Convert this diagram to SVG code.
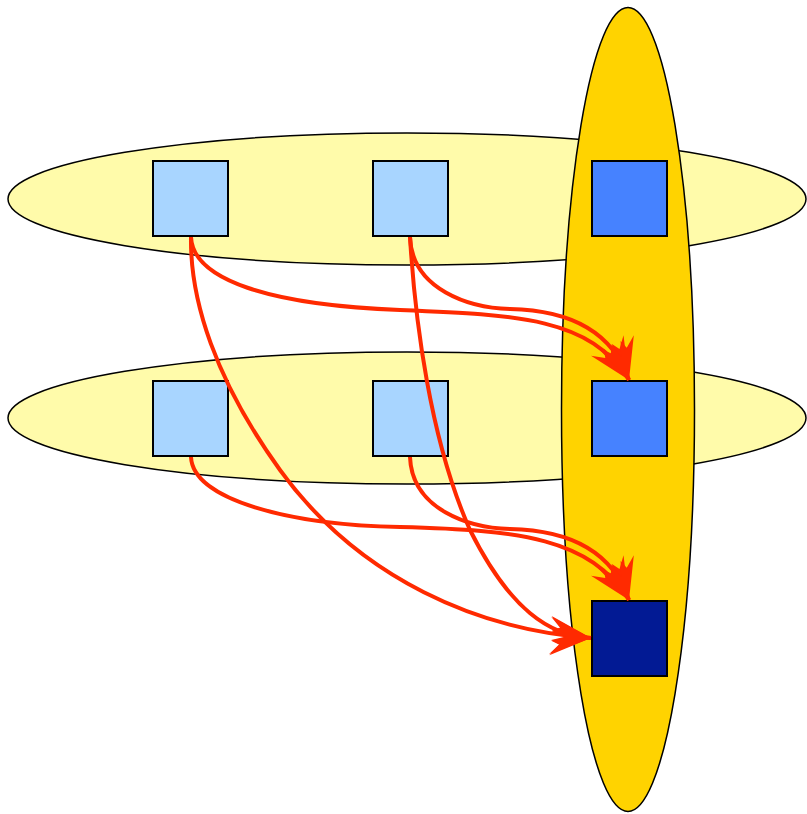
<svg xmlns="http://www.w3.org/2000/svg" width="807" height="814" viewBox="0 0 807 814">
  <style>
    .layer { fill: #fffbaa; stroke: #000; stroke-width: 1.5; }
    .column { fill: #ffd300; stroke: #000; stroke-width: 1.5; }
    .src { fill: #a8d5ff; stroke: #000; stroke-width: 2; }
    .mid { fill: #4682ff; stroke: #000; stroke-width: 2; }
    .sink { fill: #021a94; stroke: #000; stroke-width: 2; }
    .edge { fill: none; stroke: #ff2a00; stroke-width: 4; marker-end: url(#barb); }
  </style>
  <defs>
    <!-- serrated arrowhead, tip at (36,20) pointing along +x -->
    <marker id="barb" markerUnits="userSpaceOnUse" orient="auto" markerWidth="48" markerHeight="48" refX="36" refY="20" viewBox="0 0 40 40">
      <path d="M36,20 L2,4 L10,13 L3,16 L16,20 L3,24 L10,27 L2,36 Z" fill="#ff2a00"/>
    </marker>
  </defs>

  <rect width="807" height="814" fill="#fff"/>

  <g id="layer-top"><ellipse class="layer" cx="407" cy="199" rx="399" ry="66"/></g>
  <g id="layer-bottom"><ellipse class="layer" cx="407" cy="418" rx="399" ry="66"/></g>
  <g id="column"><ellipse class="column" cx="628" cy="409.5" rx="66.5" ry="402"/></g>

  <g id="n1"><rect class="src" x="153" y="161" width="75" height="75"/></g>
  <g id="n2"><rect class="src" x="373" y="161" width="75" height="75"/></g>
  <g id="n3"><rect class="mid" x="592" y="161" width="75" height="75"/></g>
  <g id="n4"><rect class="src" x="153" y="381" width="75" height="75"/></g>
  <g id="n5"><rect class="src" x="373" y="381" width="75" height="75"/></g>
  <g id="n6"><rect class="mid" x="592" y="381" width="75" height="75"/></g>
  <g id="n7"><rect class="sink" x="592" y="601" width="75" height="75"/></g>

  <g id="connectors">
    <path class="edge" d="M191,237 C193,280 270,305 400,310 C520,315 590,318 629,380"/>
    <path class="edge" d="M410,237 C412,290 470,308 510,309 C560,310 610,325 629,380"/>
    <path class="edge" d="M191,237 C190,300 215,380 280,470 C360,580 480,630 591,638"/>
    <path class="edge" d="M410,237 C415,320 430,440 470,530 C510,610 550,636 591,638"/>
    <path class="edge" d="M191,457 C193,500 290,525 400,527 C520,530 590,538 629,600"/>
    <path class="edge" d="M410,457 C412,510 470,528 510,529 C560,530 610,545 629,600"/>
  </g>
</svg>
